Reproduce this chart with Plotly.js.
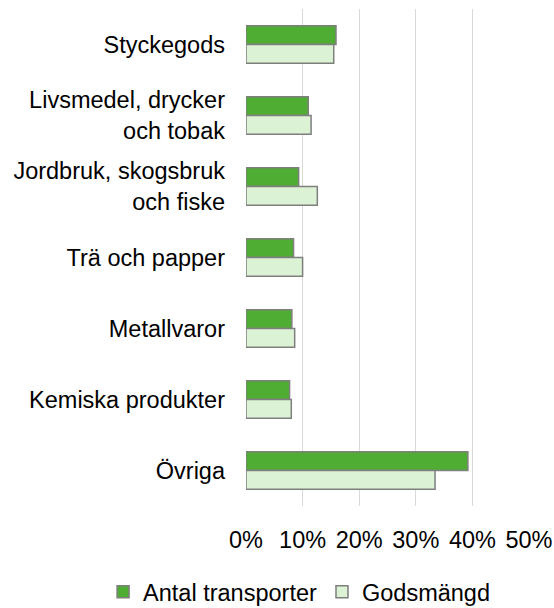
<!DOCTYPE html>
<html>
<head>
<meta charset="utf-8">
<script src="https://cdn.plot.ly/plotly-3.0.1.min.js"></script>
<style>html,body{margin:0;padding:0;background:#fff;}#chart{width:554px;height:608px;}</style>
</head>
<body>
<div id="chart"></div>
<script>
const categories = ["Styckegods", "Livsmedel, drycker<br>och tobak", "Jordbruk, skogsbruk<br>och fiske", "Trä och papper", "Metallvaror", "Kemiska produkter", "Övriga"];
const antalTransporter = [0.159, 0.110, 0.093, 0.084, 0.081, 0.077, 0.392];
const godsmangd = [0.155, 0.115, 0.126, 0.100, 0.086, 0.080, 0.334];
const xTicks = [0, 0.1, 0.2, 0.3, 0.4, 0.5];
const xTickLabels = ["0%", "10%", "20%", "30%", "40%", "50%"];

const font = {family: "'Liberation Sans', Arial, sans-serif", size: 23.5, color: "#000"};
const traces = [
  {type: "bar", orientation: "h", name: "Antal transporter", y: categories, x: antalTransporter,
   marker: {color: "#4fad33", line: {color: "#7f7f7f", width: 1.5}}, hoverinfo: "skip"},
  {type: "bar", orientation: "h", name: "Godsmängd", y: categories, x: godsmangd,
   marker: {color: "#dcf2d4", line: {color: "#7f7f7f", width: 1.5}}, hoverinfo: "skip"}
];
const layout = {
  width: 554, height: 608,
  margin: {l: 246, r: 25, t: 9, b: 102, autoexpand: false},
  paper_bgcolor: "#fff", plot_bgcolor: "#fff",
  font: font,
  barmode: "group", bargap: 0.475, bargroupgap: 0,
  xaxis: {range: [0, 0.5], tickvals: xTicks, ticktext: xTickLabels, showgrid: true, gridcolor: "#d9d9d9", gridwidth: 1,
          zeroline: false, showline: false, ticks: "", ticklabelstandoff: 17, fixedrange: true, automargin: false},
  yaxis: {autorange: "reversed", type: "category", showgrid: false, zeroline: false, showline: false, ticks: "",
          ticklabelstandoff: 20, fixedrange: true, automargin: false},
  showlegend: true,
  legend: {orientation: "h", xref: "paper", yref: "paper", x: -0.505, xanchor: "left", y: -0.173, yanchor: "middle",
           font: font, itemwidth: 30, traceorder: "normal"}
};
Plotly.newPlot("chart", traces, layout, {displayModeBar: false, staticPlot: true});
</script>
</body>
</html>
